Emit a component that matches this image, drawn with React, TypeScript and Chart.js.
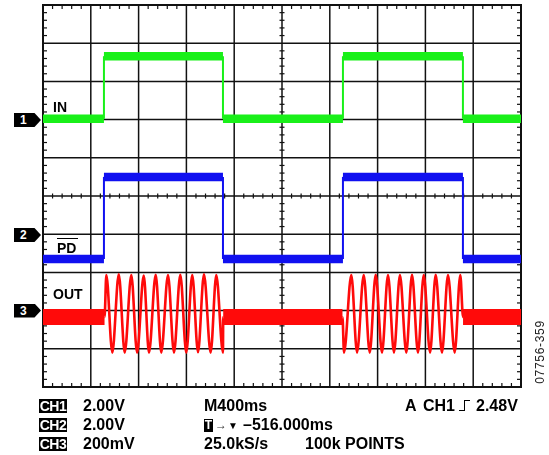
import React, { useEffect, useRef } from 'react';
import { Chart, registerables } from 'chart.js';

Chart.register(...registerables);

// Time axis: 10 divisions x 400 ms
const timeDivMs = 400;
const timeDivs = 10;
const voltDivs = 10;

// CH1 (IN) and CH2 (PD) edges, ms from left of screen
const edgeTimesMs = [510, 1506, 2510, 3514];
// levels in screen divisions (0 = bottom, 10 = top)
const inLevelsDiv = [7.02, 8.66]; // low, high
const pdLevelsDiv = [3.35, 5.5]; // low, high

// CH3 (OUT) trace: rest level, then sine bursts (peaks / troughs)
const outTimesMs = [
  0, 515, 530, 580, 634, 684, 739, 787, 843, 887, 943, 990, 1046, 1096, 1149, 1199, 1249, 1297, 1347, 1403, 1450, 1506, 1508,
  2506, 2519, 2580, 2628, 2684, 2734, 2784, 2837, 2887, 2937, 2987, 3040, 3088, 3138, 3186, 3239, 3286, 3339, 3389, 3445, 3492, 3515,
  4000,
];
const outLevelsDiv = [
  1.83, 1.83, 2.93, 0.9, 2.95, 0.9, 2.93, 0.9, 2.92, 0.9, 2.94, 0.9, 2.93, 0.9, 2.94, 0.9, 2.93, 0.91, 2.95, 0.9, 2.93, 0.9, 1.83,
  1.83, 0.9, 2.93, 0.9, 2.93, 0.9, 2.94, 0.9, 2.93, 0.9, 2.93, 0.9, 2.94, 0.9, 2.93, 0.9, 2.94, 0.9, 2.93, 0.9, 2.93, 1.83,
  1.83,
];

function stepTrace(edges: number[], levels: number[]) {
  const [low, high] = levels;
  const pts: { x: number; y: number }[] = [{ x: 0, y: low }];
  let cur = low;
  edges.forEach((t) => {
    pts.push({ x: t, y: cur });
    cur = cur === low ? high : low;
    pts.push({ x: t, y: cur });
  });
  pts.push({ x: timeDivMs * timeDivs, y: cur });
  return pts;
}

const scopeGrid = {
  id: 'scopeGrid',
  beforeDatasetsDraw(chart: any) {
    const { ctx, chartArea, scales } = chart;
    const { left, right, top, bottom } = chartArea;
    const xs = scales.x;
    const ys = scales.y;
    const line = (x1: number, y1: number, x2: number, y2: number) => {
      ctx.beginPath();
      ctx.moveTo(x1, y1);
      ctx.lineTo(x2, y2);
      ctx.stroke();
    };
    ctx.save();
    ctx.strokeStyle = '#111';
    ctx.lineWidth = 1.5;
    for (let i = 1; i < timeDivs; i++) {
      const px = xs.getPixelForValue(i * timeDivMs);
      line(px, top, px, bottom);
    }
    for (let j = 1; j < voltDivs; j++) {
      const py = ys.getPixelForValue(j);
      line(left, py, right, py);
    }
    const cx = xs.getPixelForValue((timeDivs / 2) * timeDivMs);
    const cy = ys.getPixelForValue(voltDivs / 2);
    ctx.lineWidth = 1.2;
    for (let k = 1; k < timeDivs * 5; k++) {
      if (k % 5 === 0) continue;
      const px = xs.getPixelForValue((k * timeDivMs) / 5);
      line(px, top, px, top + 4);
      line(px, bottom, px, bottom - 4);
      line(px, cy - 2.5, px, cy + 2.5);
    }
    for (let k = 1; k < voltDivs * 5; k++) {
      if (k % 5 === 0) continue;
      const py = ys.getPixelForValue(k / 5);
      line(left, py, left + 4, py);
      line(right, py, right - 4, py);
      line(cx - 2.5, py, cx + 2.5, py);
    }
    ctx.lineWidth = 2;
    ctx.strokeRect(left, top, right - left, bottom - top);
    ctx.restore();
  },
};

function Txt(props: { left: number; cy: number; size?: number; children: any; style?: any }) {
  const size = props.size ?? 16;
  return (
    <div
      style={{
        position: 'absolute',
        left: props.left,
        top: props.cy - size / 2,
        fontSize: size,
        lineHeight: size + 'px',
        fontWeight: 'bold',
        whiteSpace: 'nowrap',
        color: '#000',
        ...props.style,
      }}
    >
      {props.children}
    </div>
  );
}

function Marker(props: { cy: number; n: string }) {
  return (
    <div
      style={{
        position: 'absolute',
        left: 14,
        top: props.cy - 7,
        width: 27,
        height: 14,
        background: '#000',
        clipPath: 'polygon(0 0, 76% 0, 100% 50%, 76% 100%, 0 100%)',
        color: '#fff',
        fontWeight: 'bold',
        fontSize: 12,
        lineHeight: '14px',
        paddingLeft: 6,
        boxSizing: 'border-box',
      }}
    >
      {props.n}
    </div>
  );
}

function ChBox(props: { cy: number; label: string }) {
  return (
    <div
      style={{
        position: 'absolute',
        left: 39,
        top: props.cy - 7,
        width: 28,
        height: 14,
        background: '#000',
        color: '#fff',
        fontWeight: 'bold',
        fontSize: 14,
        lineHeight: '14px',
        textAlign: 'center',
        letterSpacing: -0.5,
      }}
    >
      {props.label}
    </div>
  );
}

export default function App() {
  const canvasRef = useRef<HTMLCanvasElement | null>(null);

  useEffect(() => {
    const canvas = canvasRef.current;
    if (!canvas) return;
    const flatWidth = (thick: number, thin: number) => (c: any) =>
      c.p0.parsed.y === c.p1.parsed.y ? thick : thin;
    const chart = new Chart(canvas, {
      type: 'line',
      data: {
        datasets: [
          {
            label: 'IN',
            data: stepTrace(edgeTimesMs, inLevelsDiv),
            borderColor: '#19f019',
            borderWidth: 2,
            pointRadius: 0,
            tension: 0,
            borderCapStyle: 'butt',
            segment: { borderWidth: flatWidth(8.5, 2) },
          },
          {
            label: 'PD',
            data: stepTrace(edgeTimesMs, pdLevelsDiv),
            borderColor: '#1010f0',
            borderWidth: 2,
            pointRadius: 0,
            tension: 0,
            borderCapStyle: 'butt',
            segment: { borderWidth: flatWidth(8.5, 2) },
          },
          {
            label: 'OUT',
            data: outTimesMs.map((t, i) => ({ x: t, y: outLevelsDiv[i] })),
            borderColor: '#ff0a0a',
            borderWidth: 2.5,
            pointRadius: 0,
            cubicInterpolationMode: 'monotone',
            borderCapStyle: 'butt',
            segment: { borderWidth: flatWidth(16, 2.6) },
          },
        ],
      },
      options: {
        responsive: false,
        maintainAspectRatio: false,
        animation: false,
        devicePixelRatio: 1,
        events: [],
        layout: { padding: { left: 43, top: 5, right: 28, bottom: 68 } },
        plugins: { legend: { display: false }, tooltip: { enabled: false } },
        scales: {
          x: { type: 'linear', min: 0, max: timeDivMs * timeDivs, display: false },
          y: { type: 'linear', min: 0, max: voltDivs, display: false },
        },
      },
      plugins: [scopeGrid],
    } as any);
    return () => chart.destroy();
  }, []);

  return (
    <div
      style={{
        position: 'fixed',
        left: 0,
        top: 0,
        width: 549,
        height: 455,
        background: '#fff',
        fontFamily: '"Liberation Sans", Arial, sans-serif',
        overflow: 'hidden',
      }}
    >
      <canvas ref={canvasRef} width={549} height={455} style={{ position: 'absolute', left: 0, top: 0, width: 549, height: 455 }} />

      <Marker cy={120} n="1" />
      <Marker cy={235} n="2" />
      <Marker cy={310.5} n="3" />

      <Txt left={53} cy={107} size={14}>IN</Txt>
      <div style={{ position: 'absolute', left: 57, top: 237.5, width: 21, height: 0, borderTop: '1.5px solid #000' }} />
      <Txt left={57} cy={247.7} size={14}>PD</Txt>
      <Txt left={53} cy={293.5} size={14}>OUT</Txt>

      <ChBox cy={406} label="CH1" />
      <ChBox cy={425} label="CH2" />
      <ChBox cy={444} label="CH3" />
      <Txt left={83} cy={406}>2.00V</Txt>
      <Txt left={83} cy={425}>2.00V</Txt>
      <Txt left={83} cy={444}>200mV</Txt>

      <Txt left={204} cy={406}>M400ms</Txt>
      <div
        style={{
          position: 'absolute',
          left: 204,
          top: 418.5,
          width: 9,
          height: 13,
          background: '#000',
          color: '#fff',
          fontWeight: 'bold',
          fontSize: 12,
          lineHeight: '13px',
          textAlign: 'center',
        }}
      >
        T
      </div>
      <Txt left={215} cy={425} size={12} style={{ fontWeight: 'normal', color: '#333' }}>→</Txt>
      <Txt left={228} cy={426} size={10} style={{ fontWeight: 'normal' }}>▼</Txt>
      <Txt left={243} cy={425}>–516.000ms</Txt>
      <Txt left={204} cy={444}>25.0kS/s</Txt>
      <Txt left={305} cy={444}>100k POINTS</Txt>

      <Txt left={405} cy={406}>A</Txt>
      <Txt left={423} cy={406}>CH1</Txt>
      <div style={{ position: 'absolute', left: 459, top: 400, width: 6, height: 11, borderBottom: '1.5px solid #000', borderRight: '1.5px solid #000', boxSizing: 'border-box' }} />
      <div style={{ position: 'absolute', left: 463.5, top: 399.5, width: 6, height: 0, borderTop: '1.5px solid #000' }} />
      <Txt left={476} cy={406}>2.48V</Txt>

      <div
        style={{
          position: 'absolute',
          left: 500,
          top: 346,
          width: 80,
          height: 12,
          fontSize: 12,
          lineHeight: '12px',
          textAlign: 'center',
          letterSpacing: 0.7,
          color: '#222',
          transform: 'rotate(-90deg)',
          whiteSpace: 'nowrap',
        }}
      >
        07756-359
      </div>
    </div>
  );
}
